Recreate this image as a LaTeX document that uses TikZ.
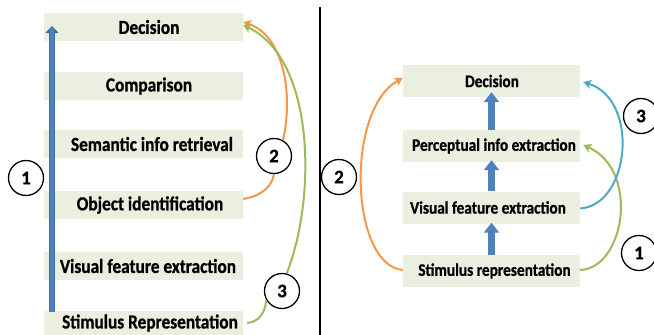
\documentclass[tikz,border=0pt]{standalone}
\usepackage{fontspec}
\setmainfont{Carlito}[BoldFeatures={FakeBold=0.9}]
\usepackage{graphicx}
\usetikzlibrary{arrows.meta}
\definecolor{boxfill}{HTML}{EBEFDF}
\definecolor{flowblue}{HTML}{4F81BD}
\definecolor{flowblueedge}{HTML}{3F6EA6}
\definecolor{routeorange}{HTML}{F79646}
\definecolor{routegreen}{HTML}{9BBB59}
\definecolor{routecyan}{HTML}{4BACC6}
\newcommand{\tallword}[1]{\scalebox{1}[1.15]{#1}}
\tikzset{
  stageL/.style={fill=boxfill, draw=none, minimum width=199pt, minimum height=28pt, inner sep=0pt},
  stageR/.style={fill=boxfill, draw=none, minimum width=177pt, minimum height=32pt, inner sep=0pt},
  labL/.style={font=\fontsize{17.3}{18}\selectfont\bfseries, text=black, inner sep=0pt},
  labR/.style={font=\fontsize{15.3}{16}\selectfont\bfseries, text=black, inner sep=0pt},
  numdisc/.style={circle, draw=black, line width=1.3pt, fill=white, minimum size=35pt, inner sep=0pt,
    font=\fontsize{19}{19}\selectfont\bfseries},
  route/.style={line width=2pt, -{Stealth[length=8pt,width=9pt,inset=2pt]}},
  routeplain/.style={line width=2pt},
  blockarrow/.style={line width=7pt, draw=flowblue, -{Triangle[length=10pt 0,width=15pt 0]}}
}
\begin{document}
\begin{tikzpicture}[x=1pt,y=-1pt]
\clip (0,0) rectangle (654,335);
\useasboundingbox (0,0) rectangle (654,335);

% ---- left panel: stage boxes ----
\node[stageL] (lDec) at (143.5,27) {};
\node[stageL] (lCmp) at (143.5,86) {};
\node[stageL] (lSem) at (143.5,144) {};
\node[stageL] (lObj) at (143.5,205) {};
\node[stageL] (lVis) at (143.5,266) {};
\node[stageL] (lStim) at (143.5,325) {};
\node[labL] (tDec) at (149,27) {\tallword{Decision}};
\node[labL] (tCmp) at (149,86) {\tallword{Comparison}};
\node[labL] (tSem) at (152,144) {\tallword{Semantic info retrieval}};
\node[labL] (tObj) at (150,205) {\tallword{Object identification}};
\node[labL] (tVis) at (148,266) {\tallword{Visual feature extraction}};
\node[labL] (tStim) at (150,323) {\tallword{Stimulus Representation}};

% serial pathway arrow
\coordinate (blueBot) at (52,312);
\coordinate (blueTop) at (52,26);
\draw[line width=6.5pt, flowblueedge, -{Triangle[length=7pt 0,width=13pt 0]}] (blueBot) -- (blueTop);
\draw[line width=4pt, flowblue, shorten >=2pt] (blueBot) -- (blueTop);

% numbered routes
\node[numdisc] (lc1) at (26,178) {1};
\node[numdisc] (lc2) at (274,156) {2};
\node[numdisc] (lc3) at (282,291) {3};

\draw[routeplain, routeorange] ([yshift=6pt]lObj.east) .. controls (262,196) and (272,186) .. (lc2.south);
\draw[route, routeorange] (lc2.60) .. controls (294,90) and (282,35) .. ([yshift=5pt]lDec.east);
\draw[routeplain, routegreen] ([xshift=4pt,yshift=2pt]lStim.east) .. controls (258,322) and (265,314) .. (lc3.210);
\draw[route, routegreen] (lc3.75) .. controls (316,200) and (316,60) .. ([yshift=2pt]lDec.east);

% divider
\coordinate (divTop) at (320,7);
\coordinate (divBot) at (320,335);
\draw[line width=1.8pt, black] (divTop) -- (divBot);

% ---- right panel: stage boxes ----
\node[stageR] (rDec) at (491.5,81) {};
\node[stageR] (rPer) at (491.5,146) {};
\node[stageR] (rVis) at (491.5,207.5) {};
\node[stageR] (rStim) at (491.5,271) {};
\node[labR] (uDec) at (492,81) {\tallword{Decision}};
\node[labR] (uPer) at (494,146) {\tallword{Perceptual info extraction}};
\node[labR] (uVis) at (488,207.5) {\tallword{Visual feature extraction}};
\node[labR] (uStim) at (494.5,271) {\tallword{Stimulus representation}};

\draw[blockarrow] (rPer.north) -- ([yshift=5pt]rDec.south);
\draw[blockarrow] (rVis.north) -- ([yshift=2pt]rPer.south);
\draw[blockarrow] (rStim.north) -- ([yshift=1pt]rVis.south);

\node[numdisc] (rc2) at (339,177) {2};
\node[numdisc] (rc3) at (641,116) {3};
\node[numdisc] (rc1) at (639,253) {1};

\draw[route, routeorange] ([yshift=1pt]rStim.west) .. controls (350,265) and (345,110) .. ([yshift=3pt]rDec.west);
\draw[route, routegreen] ([yshift=1pt]rStim.east) .. controls (625,268) and (640,170) .. ([xshift=3pt,yshift=1pt]rPer.east);
\draw[route, routecyan] ([yshift=-1pt]rVis.east) .. controls (630,205) and (640,100) .. ([xshift=3pt,yshift=-1pt]rDec.east);
\end{tikzpicture}
\end{document}
